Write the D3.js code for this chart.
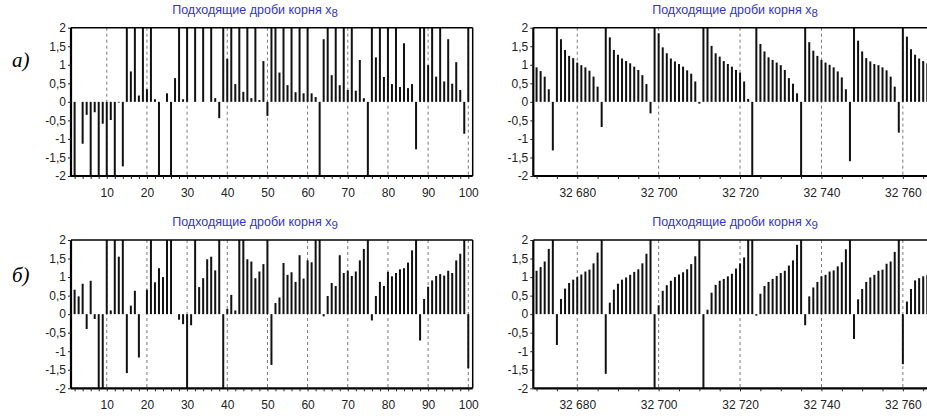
<!DOCTYPE html>
<html>
<head>
<meta charset="utf-8">
<script src="https://cdn.jsdelivr.net/npm/d3@7"></script>
<style>
  body { margin: 0; background: #fff; }
  svg { display: block; }
</style>
</head>
<body>
<svg id="chart" width="927" height="419"></svg>
<script>
// Convergent fractions of the roots x8 and x9: first hundred terms and a window near 32 700
const leftStart = 2;
const x8Left = [
  -2, 0, -1.13, -0.35, -2, -0.28, -2, -0.59, -2, -0.49, -2, -0.02, -1.74, 2, 0.82, 2, 0.17, 2, 0.34,
  2, 0.07, -2, 0, 0.23, -2, 0.64, 2, 0.07, 2, 0, 2, 0, 2, 0, 2, 0.1, -0.44, 2,
  1.16, 2, 0.48, 2, 0.27, 2, 0.1, 2, 0.05, 1.1, -0.38, 2, 2, 0.79, 2, 0.45, 2, 0.26, 2, 0.23,
  2, 0.23, 0.13, -2, 1.69, 2, 0.72, 2, 0.45, 2, 0.32, 2, 0.3, 1.13, 0.1, -2, 2, 1.2, 2, 0.67,
  2, 0.48, 2, 0.4, 1.58, 0.37, 0.48, -1.28, 2, 2, 0.99, 2, 0.68, 2, 0.55, 1.69, 0.49, 1.07, 0.32, -0.86,
  2
];
const x9Left = [
  0.66, 0.48, 0.82, -0.4, 0.9, -0.13, -2, -2, 2, 0.1, 2, 1.55, 2, -1.59, 0.23, 0.63, -1.17, 0,
  0.66, 2, 0.86, 1.24, 1.0, 2, 2, 0, -0.15, -0.27, -2, -0.3, 2, 0.73, 0.97, 1.48, 1.55, 1.18, 2, -2,
  0.14, 0.52, 0.1, 2, 2, 1.48, 1.42, 0.97, 1.15, 1.35, 2, -1.37, 0.3, 0.45, 1.38, 1.06, 1.13, 0.87, 1.59, 0.96,
  1.45, 1.4, 2, 2, -0.06, 0.49, 0.84, 0.76, 1.59, 1.11, 1.17, 1.03, 1.15, 1.45, 1.76, 2, -0.17, 0.49, 0.87, 0.76,
  1.14, 1.02, 1.11, 1.21, 1.24, 1.39, 1.72, 2, -0.71, 0.41, 0.74, 0.91, 1.03, 1.08, 1.04, 1.17, 1.11, 1.45, 1.63, 2,
  -1.46
];
const rightStart = 32670;
const x8Right = [
  0.93, 0.83, 0.68, 0.34, -1.31, 2, 1.69, 1.4, 1.24, 1.18,
  1.06, 0.99, 0.93, 0.84, 0.68, 0.41, -0.68, 2, 1.74, 1.4,
  1.27, 1.17, 1.1, 1.04, 0.95, 0.86, 0.72, 0.48, -0.31, 2,
  1.85, 1.47, 1.31, 1.17, 1.09, 1.02, 0.95, 0.85, 0.76, 0.55,
  -0.05, 2, 2, 1.51, 1.31, 1.22, 1.1, 1.02, 0.95, 0.86,
  0.79, 0.55, 0.08, -2, 2, 1.56, 1.36, 1.2, 1.13, 1.06,
  0.99, 0.86, 0.64, 0.49, 0.23, -2, 2, 1.61, 1.38, 1.24,
  1.13, 1.06, 1.0, 0.93, 0.82, 0.66, 0.34, -1.6, 2, 1.65,
  1.36, 1.18, 1.09, 1.02, 0.99, 0.93, 0.85, 0.68, 0.41, -0.83,
  2, 1.76, 1.42, 1.27, 1.17, 1.1, 1.04
];
const x9Right = [
  1.17, 1.27, 1.42, 1.76, 2, -0.83, 0.41, 0.69, 0.84, 0.93,
  1.0, 1.07, 1.15, 1.2, 1.37, 1.66, 2, -1.61, 0.31, 0.66,
  0.82, 0.93, 0.99, 1.06, 1.14, 1.21, 1.37, 1.63, 2, -2,
  0.24, 0.63, 0.78, 0.9, 1.0, 1.07, 1.13, 1.21, 1.35, 1.56,
  2, -2, 0.12, 0.58, 0.79, 0.9, 0.95, 1.02, 1.09, 1.23,
  1.37, 1.53, 2, 2, -0.04, 0.55, 0.76, 0.87, 0.95, 1.03,
  1.11, 1.17, 1.31, 1.45, 1.87, 2, -0.3, 0.48, 0.72, 0.87,
  1.02, 1.06, 1.15, 1.18, 1.29, 1.4, 1.75, 2, -0.67, 0.4,
  0.68, 0.87, 0.99, 1.06, 1.17, 1.2, 1.36, 1.42, 1.68, 2,
  -1.35, 0.34, 0.68, 0.91, 0.97, 1.02, 1.05
];
const yTicks = [-2, -1.5, -1, -0.5, 0, 0.5, 1, 1.5, 2];
const leftLabelTicks = [10, 20, 30, 40, 50, 60, 70, 80, 90, 100];
const rightLabelTicks = [32680, 32700, 32720, 32740, 32760];
const titleText = "Подходящие дроби корня x";
const rootNames = ["8", "9"];
const rowLabels = ["а)", "б)"];

const svg = d3.select("#chart");

const fmtY = d => String(d).replace(".", ",");
const fmtRight = d => d3.format(",")(d).replace(",", " ");

function drawPanel(cfg) {
  const g = svg.append("g");
  const x = d3.scaleLinear().domain(cfg.domain).range(cfg.xr);
  const y = d3.scaleLinear().domain([-2, 2]).range([cfg.yb, cfg.yt]);
  const clipId = "clip" + cfg.id;

  svg.append("clipPath").attr("id", clipId)
    .append("rect")
    .attr("x", cfg.xr[0]).attr("y", cfg.yt)
    .attr("width", cfg.xr[1] - cfg.xr[0]).attr("height", cfg.yb - cfg.yt);

  // dashed verticals at the labelled ticks
  g.append("g").selectAll("line")
    .data(cfg.labelTicks)
    .join("line")
    .attr("x1", d => x(d)).attr("x2", d => x(d))
    .attr("y1", cfg.yt).attr("y2", cfg.yb)
    .attr("stroke", "#7a7a7a")
    .attr("stroke-width", 1)
    .attr("stroke-dasharray", "3,3");

  // one bar per term, clipped to [-2, 2]
  const pts = cfg.values.map((v, i) => ({ k: cfg.start + i, v: v }));
  g.append("g").attr("clip-path", `url(#${clipId})`)
    .selectAll("rect")
    .data(pts.filter(p => p.v !== 0))
    .join("rect")
    .attr("x", p => x(p.k) - 1)
    .attr("width", 2)
    .attr("y", p => y(Math.max(0, Math.min(2, p.v))))
    .attr("height", p => Math.abs(y(Math.max(-2, Math.min(2, p.v))) - y(0)))
    .attr("fill", "#111");

  // frame: top and right thin, axes thick
  g.append("line").attr("x1", cfg.xr[0]).attr("x2", cfg.xr[1])
    .attr("y1", cfg.yt).attr("y2", cfg.yt)
    .attr("stroke", "#000").attr("stroke-width", 1.5);
  g.append("line").attr("x1", cfg.xr[1]).attr("x2", cfg.xr[1])
    .attr("y1", cfg.yt).attr("y2", cfg.yb)
    .attr("stroke", "#000").attr("stroke-width", 1.5);

  const yAxis = d3.axisLeft(y).tickValues(yTicks).tickFormat(fmtY)
    .tickSize(3).tickPadding(2);
  const ya = g.append("g").attr("transform", `translate(${cfg.xr[0]},0)`).call(yAxis);
  ya.select(".domain").attr("stroke-width", 2.2).attr("d", `M0,${cfg.yt}V${cfg.yb}`);

  const xAxis = d3.axisBottom(x).tickValues(cfg.minorTicks)
    .tickFormat(d => cfg.labelTicks.includes(d) ? cfg.fmt(d) : "")
    .tickSize(3).tickPadding(9);
  const xa = g.append("g").attr("transform", `translate(0,${cfg.yb})`).call(xAxis);
  xa.select(".domain").attr("stroke-width", 2.2).attr("d", `M${cfg.xr[0]},0H${cfg.xr[1]}`);

  [ya, xa].forEach(a => {
    a.selectAll("text").attr("font-family", "'Liberation Sans', Arial, sans-serif")
      .attr("font-size", 12).attr("fill", "#222");
    a.selectAll(".tick line").attr("stroke", "#222");
  });

  const t = g.append("text")
    .attr("x", cfg.titleX).attr("y", cfg.titleY)
    .attr("text-anchor", "middle")
    .attr("font-family", "'Liberation Sans', Arial, sans-serif")
    .attr("font-size", 12.5)
    .attr("fill", "#3333cc")
    .text(titleText);
  t.append("tspan").attr("font-size", 11.5).attr("dy", 3).text(cfg.sub);
}

const rows = [
  { yt: 27.7, yb: 176, titleY: 14, left: x8Left, right: x8Right, sub: rootNames[0] },
  { yt: 240, yb: 388.3, titleY: 226, left: x9Left, right: x9Right, sub: rootNames[1] }
];

const leftMinor = d3.range(2, 101, 2);
const rightMinor = d3.range(32670, 32770, 5);
const rightUnit = 4.07;

rows.forEach((r, i) => {
  drawPanel({
    id: "L" + i, domain: [1.1, 101.1], xr: [71, 472.7], yt: r.yt, yb: r.yb,
    values: r.left, start: leftStart, labelTicks: leftLabelTicks, minorTicks: leftMinor,
    fmt: d => String(d), titleX: 255, titleY: r.titleY, sub: r.sub
  });
  drawPanel({
    id: "R" + i, domain: [32669.2, 32770], xr: [533.3, 533.3 + (32770 - 32669.2) * rightUnit],
    yt: r.yt, yb: r.yb,
    values: r.right, start: rightStart, labelTicks: rightLabelTicks, minorTicks: rightMinor,
    fmt: fmtRight, titleX: 735, titleY: r.titleY, sub: r.sub
  });
  svg.append("text")
    .attr("x", 12).attr("y", i === 0 ? 67 : 282)
    .attr("font-family", "'Liberation Serif', 'Times New Roman', serif")
    .attr("font-style", "italic")
    .attr("font-size", 21)
    .attr("fill", "#000")
    .text(rowLabels[i]);
});
</script>
</body>
</html>
